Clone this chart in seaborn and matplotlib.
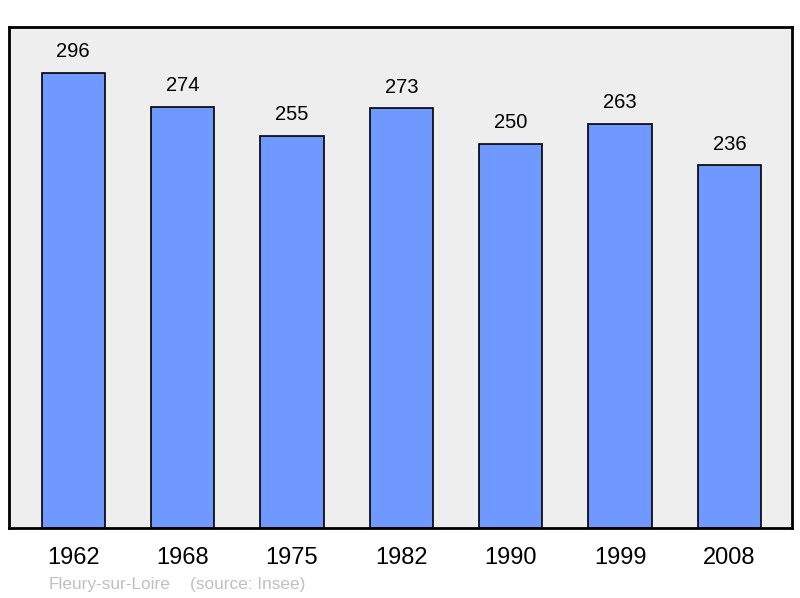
import pandas as pd
import matplotlib.pyplot as plt
import seaborn as sns

years = ["1962", "1968", "1975", "1982", "1990", "1999", "2008"]
population = [296, 274, 255, 273, 250, 263, 236]

data = pd.DataFrame({"year": years, "pop": population})

sns.set_style("white")
plt.rcParams["font.family"] = ["Liberation Sans", "DejaVu Sans"]
plt.rcParams["text.color"] = "black"
plt.rcParams["xtick.color"] = "black"

fig = plt.figure(figsize=(8, 5.98), dpi=100)
ax = fig.add_axes([9 / 800, 70 / 598, 783 / 800, 501 / 598])
ax.set_facecolor("#eeeeee")

sns.barplot(data=data, x="year", y="pop", color="#7099ff", saturation=1,
            width=0.58, edgecolor="black", linewidth=1.2, ax=ax)

for i, v in enumerate(population):
    ax.annotate(str(v), (i, v), xytext=(0, 8.5), textcoords="offset points",
                ha="center", va="bottom", fontsize=14.5, color="black")

ax.set_xlim(-0.588, 6.572)
ax.set_ylim(0, 326)
ax.set_xlabel("")
ax.set_ylabel("")
ax.set_yticks([])
ax.tick_params(axis="x", length=0, labelsize=17, pad=14, labelcolor="black")
for s in ax.spines.values():
    s.set_linewidth(2)
    s.set_color("black")

fig.text(49 / 800, 1 - 585 / 598, "Fleury-sur-Loire",
         fontsize=12.4, color="#c0c0c0", va="center", ha="left")
fig.text(190 / 800, 1 - 585 / 598, "(source: Insee)",
         fontsize=12.4, color="#c0c0c0", va="center", ha="left")

fig.savefig("out.png", dpi=100)
